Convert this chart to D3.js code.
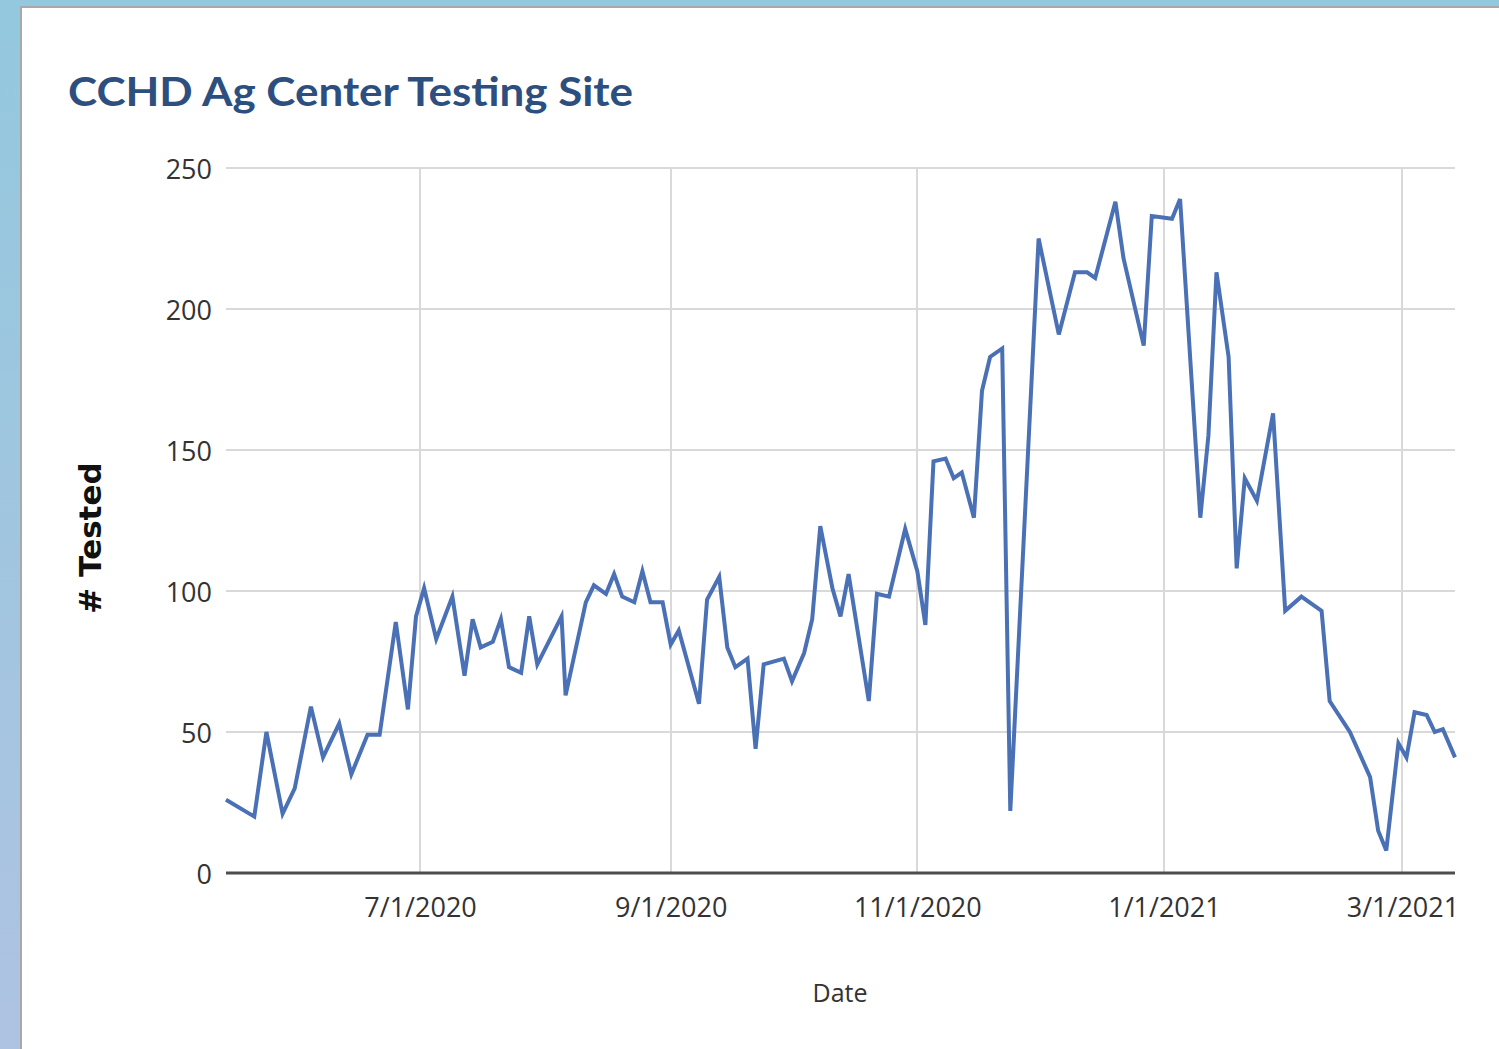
<!DOCTYPE html>
<meta charset="utf-8">
<style>
    html, body {
        margin: 0;
        padding: 0;
        width: 1499px;
        height: 1049px;
        overflow: hidden;
        background: linear-gradient(#93c8de, #aec3e1);
    }

    svg {
        display: block;
    }

    .axis text {
        font-family: "Open Sans", sans-serif;
        font-size: 27px;
        fill: #333;
    }

    .axis path,
    .axis line {
        display: none;
    }

    .grid line {
        stroke: #d9d9d9;
        stroke-width: 2;
        shape-rendering: crispEdges;
    }
</style>
<body>
<script src="https://cdn.jsdelivr.net/npm/d3@7"></script>
<script>
    // data (date -> number tested)
    const dates = [
        "5/14/2020", "5/21/2020", "5/24/2020", "5/28/2020", "5/31/2020", "6/4/2020", "6/7/2020",
        "6/11/2020", "6/14/2020", "6/18/2020", "6/21/2020", "6/25/2020", "6/28/2020", "6/30/2020",
        "7/2/2020", "7/5/2020", "7/9/2020", "7/12/2020", "7/14/2020", "7/16/2020", "7/19/2020",
        "7/21/2020", "7/23/2020", "7/26/2020", "7/28/2020", "7/30/2020", "8/5/2020", "8/6/2020",
        "8/11/2020", "8/13/2020", "8/16/2020", "8/18/2020", "8/20/2020", "8/23/2020", "8/25/2020",
        "8/27/2020", "8/30/2020", "9/1/2020", "9/3/2020", "9/8/2020", "9/10/2020", "9/13/2020",
        "9/15/2020", "9/17/2020", "9/20/2020", "9/22/2020", "9/24/2020", "9/29/2020", "10/1/2020",
        "10/4/2020", "10/6/2020", "10/8/2020", "10/11/2020", "10/13/2020", "10/15/2020", "10/20/2020",
        "10/22/2020", "10/25/2020", "10/29/2020", "11/1/2020", "11/3/2020", "11/5/2020", "11/8/2020",
        "11/10/2020", "11/12/2020", "11/15/2020", "11/17/2020", "11/19/2020", "11/22/2020", "11/24/2020",
        "12/1/2020", "12/6/2020", "12/10/2020", "12/13/2020", "12/15/2020", "12/20/2020", "12/22/2020",
        "12/27/2020", "12/29/2020", "1/3/2021", "1/5/2021", "1/10/2021", "1/12/2021", "1/14/2021",
        "1/17/2021", "1/19/2021", "1/21/2021", "1/24/2021", "1/28/2021", "1/31/2021", "2/4/2021",
        "2/9/2021", "2/11/2021", "2/16/2021", "2/21/2021", "2/23/2021", "2/25/2021", "2/28/2021",
        "3/2/2021", "3/4/2021", "3/7/2021", "3/9/2021", "3/11/2021", "3/14/2021"
    ];
    const tested = [
        26, 20, 50, 21, 30, 59, 41,
        53, 35, 49, 49, 89, 58, 91,
        101, 83, 98, 70, 90, 80, 82,
        90, 73, 71, 91, 74, 91, 63,
        96, 102, 99, 106, 98, 96, 107,
        96, 96, 81, 86, 60, 97, 105,
        80, 73, 76, 44, 74, 76, 68,
        78, 90, 123, 101, 91, 106, 61,
        99, 98, 122, 107, 88, 146, 147,
        140, 142, 126, 171, 183, 186, 22,
        225, 191, 213, 213, 211, 238, 218,
        187, 233, 232, 239, 126, 155, 213,
        183, 108, 140, 132, 163, 93, 98,
        93, 61, 50, 34, 15, 8, 46,
        41, 57, 56, 50, 51, 41
    ];
    const xTickLabels = ["7/1/2020", "9/1/2020", "11/1/2020", "1/1/2021", "3/1/2021"];
    const yTicks = [0, 50, 100, 150, 200, 250];
    const xDomain = ["5/14/2020", "3/14/2021"];

    const title = "CCHD Ag Center Testing Site";
    const yLabel = "# Tested";
    const xLabel = "Date";

    const W = 1499, H = 1049;
    const margin = {top: 168, right: 44, bottom: 176, left: 226};
    const parse = d3.timeParse("%-m/%-d/%Y");

    const data = dates.map((d, i) => ({date: parse(d), value: tested[i]}));

    const svg = d3.select("body").append("svg")
        .attr("width", W)
        .attr("height", H);

    // white slide panel
    svg.append("rect")
        .attr("x", 21).attr("y", 7)
        .attr("width", W - 20).attr("height", H)
        .attr("fill", "#fff")
        .attr("stroke", "#a8a8a8")
        .attr("stroke-width", 2);

    const x = d3.scaleTime()
        .domain(xDomain.map(parse))
        .range([margin.left, W - margin.right]);

    const y = d3.scaleLinear()
        .domain([0, 250])
        .range([H - margin.bottom, margin.top]);

    const xTickDates = xTickLabels.map(parse);

    // grid
    const grid = svg.append("g").attr("class", "grid");
    grid.selectAll(".hgrid")
        .data(yTicks.filter(d => d > 0))
        .enter().append("line")
        .attr("x1", margin.left).attr("x2", W - margin.right)
        .attr("y1", d => y(d)).attr("y2", d => y(d));
    grid.selectAll(".vgrid")
        .data(xTickDates)
        .enter().append("line")
        .attr("x1", d => x(d)).attr("x2", d => x(d))
        .attr("y1", y(250)).attr("y2", y(0));

    // axes
    svg.append("g")
        .attr("class", "axis")
        .attr("transform", "translate(" + (margin.left - 14) + ",0)")
        .call(d3.axisLeft(y).tickValues(yTicks).tickSize(0).tickPadding(0))
        .selectAll("text").attr("dy", "0.4em");

    svg.append("g")
        .attr("class", "axis")
        .attr("transform", "translate(0," + (H - margin.bottom + 17) + ")")
        .call(d3.axisBottom(x).tickValues(xTickDates).tickFormat(d3.timeFormat("%-m/%-d/%Y")).tickSize(0).tickPadding(0))
        .selectAll("text").attr("dy", "1em");

    // baseline
    svg.append("line")
        .attr("x1", margin.left).attr("x2", W - margin.right)
        .attr("y1", y(0)).attr("y2", y(0))
        .attr("stroke", "#4d4d4d")
        .attr("stroke-width", 3);

    // line
    const line = d3.line()
        .x(d => x(d.date))
        .y(d => y(d.value));

    svg.append("path")
        .datum(data)
        .attr("fill", "none")
        .attr("stroke", "#4a70b5")
        .attr("stroke-width", 4)
        .attr("stroke-linejoin", "miter")
        .attr("d", line);

    // titles
    svg.append("text")
        .attr("x", 68).attr("y", 106)
        .attr("textLength", 565)
        .attr("lengthAdjust", "spacingAndGlyphs")
        .style("font-family", "Lato, sans-serif")
        .style("font-weight", "bold")
        .style("font-size", "41px")
        .style("fill", "#2d4f80")
        .text(title);

    svg.append("text")
        .attr("transform", "translate(101," + 538 + ") rotate(-90)")
        .attr("text-anchor", "middle")
        .style("font-family", "DejaVu Sans, sans-serif")
        .style("font-weight", "bold")
        .style("font-size", "31px")
        .style("fill", "#111")
        .text(yLabel);

    svg.append("text")
        .attr("x", 840).attr("y", 1002)
        .attr("text-anchor", "middle")
        .style("font-family", "Open Sans, sans-serif")
        .style("font-size", "25px")
        .style("fill", "#333")
        .text(xLabel);
</script>
</body>
</html>
